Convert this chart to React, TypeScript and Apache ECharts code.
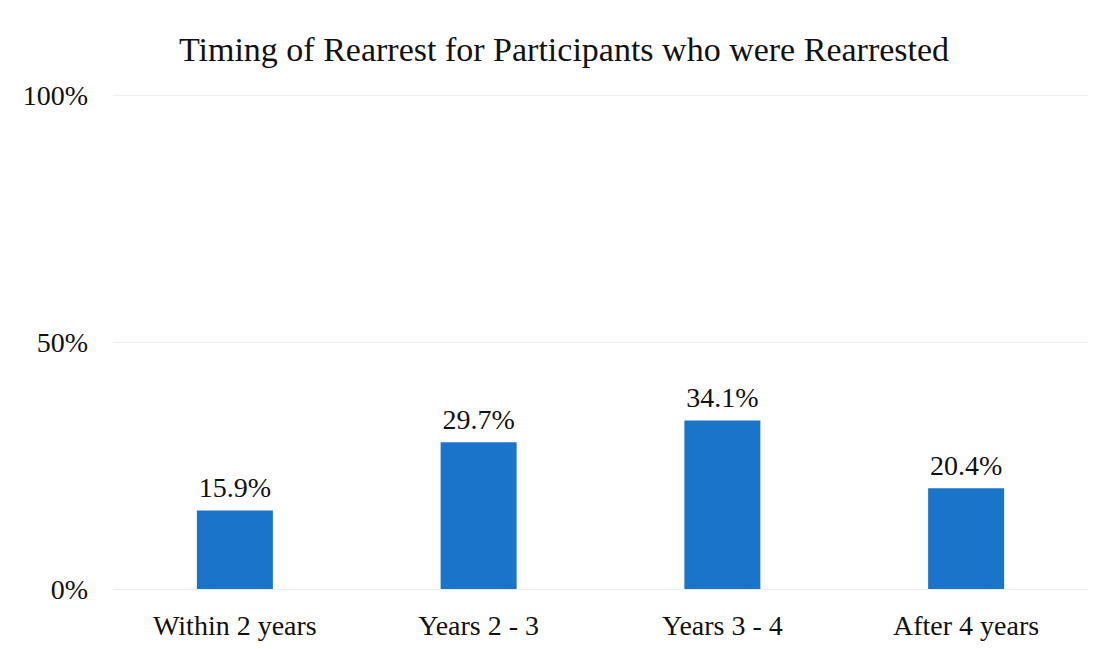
import React, { useEffect, useRef } from "react";
import * as echarts from "echarts";

const categories = ["Within 2 years", "Years 2 - 3", "Years 3 - 4", "After 4 years"];
const values = [15.9, 29.7, 34.1, 20.4];
const yTicks = [0, 50, 100];

export default function App() {
  const ref = useRef<HTMLDivElement>(null);
  useEffect(() => {
    if (!ref.current) return;
    const chart = echarts.init(ref.current, null, { renderer: "svg" });
    const font = "'Liberation Serif', 'Times New Roman', serif";
    chart.setOption({
      animation: false,
      backgroundColor: "#ffffff",
      title: {
        text: "Timing of Rearrest for Participants who were Rearrested",
        left: 559,
        textAlign: "center",
        top: 27,
        textStyle: { fontFamily: font, fontSize: 34, fontWeight: "normal", color: "#111" },
      },
      grid: { left: 113, right: 18, top: 95, bottom: 60, containLabel: false },
      xAxis: {
        type: "category",
        data: categories,
        axisLine: { show: false },
        axisTick: { show: false },
        axisLabel: { fontFamily: font, fontSize: 28, color: "#111", margin: 22 },
      },
      yAxis: {
        type: "value",
        min: yTicks[0],
        max: yTicks[yTicks.length - 1],
        interval: 50,
        axisLine: { show: false },
        axisTick: { show: false },
        splitLine: { lineStyle: { color: "#eeeeee", width: 1 } },
        axisLabel: { fontFamily: font, fontSize: 28, color: "#111", margin: 25, formatter: "{value}%" },
      },
      series: [
        {
          type: "bar",
          data: values,
          barWidth: 76,
          itemStyle: { color: "#1a74ca" },
          label: {
            show: true,
            position: "top",
            distance: 9,
            fontFamily: font,
            fontSize: 28,
            color: "#111",
            formatter: (p: any) => p.value.toFixed(1) + "%",
          },
        },
      ],
    });
    return () => chart.dispose();
  }, []);
  return <div ref={ref} style={{ position: "absolute", left: 0, top: 0, width: 1106, height: 649 }} />;
}
